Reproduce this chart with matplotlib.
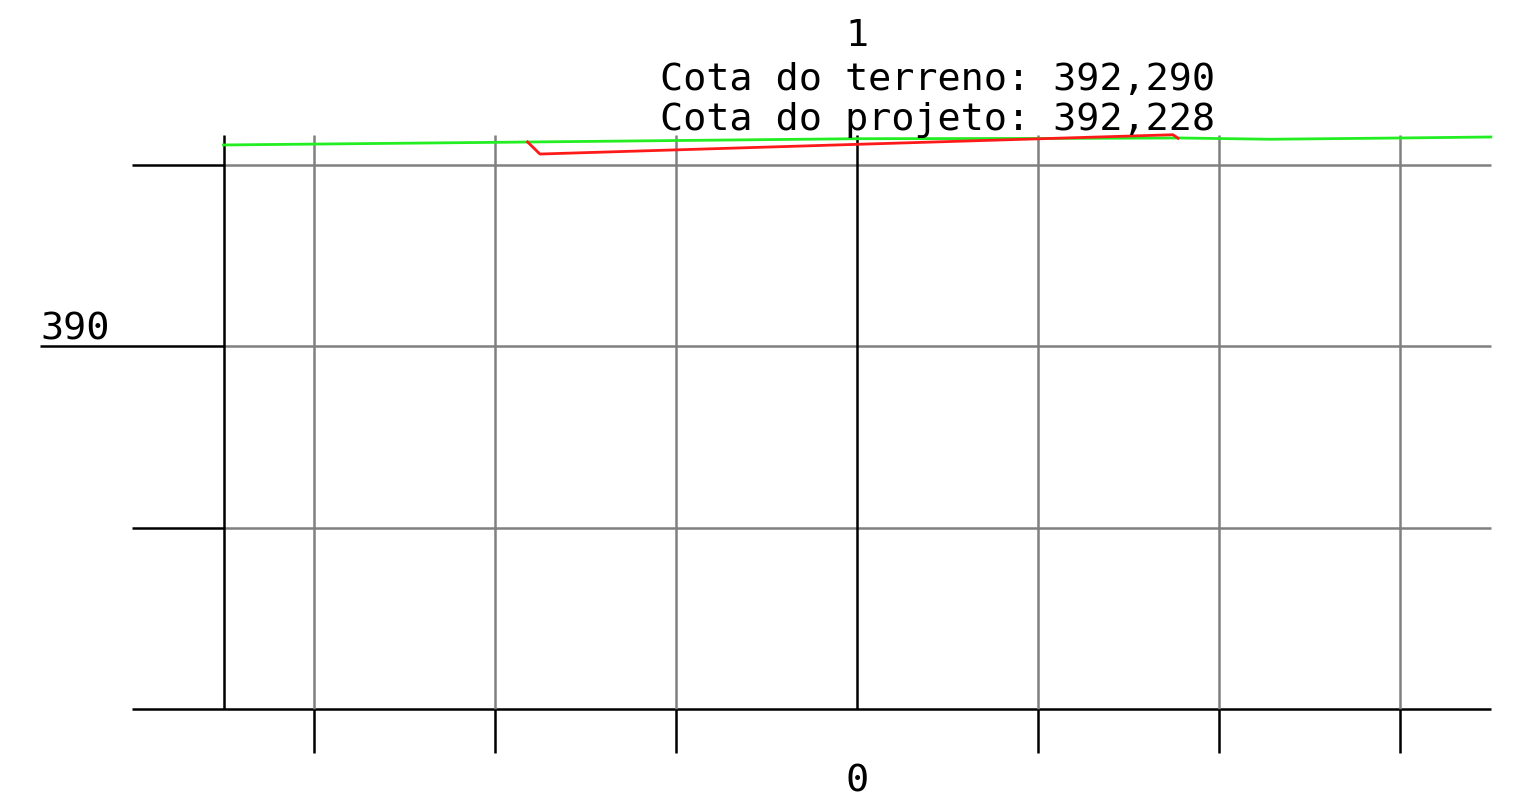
import matplotlib
matplotlib.use("Agg")
import matplotlib.pyplot as plt

# ---- data (metres) ----
terrain_x = [-17.5, -10.0, 0.0, 5.0, 8.92, 11.41, 15.0, 17.51]
terrain_y = [392.221, 392.250, 392.290, 392.293, 392.298, 392.284, 392.298, 392.309]

project_x = [-9.10, -8.76, 0.0, 8.73, 8.87]
project_y = [392.254, 392.121, 392.228, 392.334, 392.295]

elev_levels = [386, 388, 390, 392]
offset_lines = [-15, -10, -5, 5, 10, 15]
elev_label = "390"
station = "1"
offset_label = "0"
terrain_cota = "392,290"
project_cota = "392,228"

# ---- figure ----
W, H, DPI = 1528, 797, 100
fig = plt.figure(figsize=(W / DPI, H / DPI), dpi=DPI)
ax = fig.add_axes([0, 0, 1, 1])
ax.set_axis_off()

PX_X = 36.2     # px per metre horizontally
PX_Y = 90.65    # px per metre vertically
X0, Y0 = 857, 165  # pixel of (0, 392)

def px_x(p):
    return (p - X0) / PX_X

def px_y(p):
    return 392 + (Y0 - p) / PX_Y

ax.set_xlim(px_x(0), px_x(W))
ax.set_ylim(px_y(H), px_y(0))

left_edge, right_edge = -17.5, 17.51
far_left = px_x(132)
top = px_y(135)
tick_bot = px_y(753)
base = min(elev_levels)
lw = 1.8
gray = "#808080"

# horizontal elevation lines
for lv in elev_levels:
    if lv == base:
        ax.plot([far_left, right_edge], [lv, lv], color="black", lw=lw, solid_capstyle="butt")
    else:
        xl = px_x(40) if str(lv) == elev_label else far_left
        ax.plot([xl, left_edge], [lv, lv], color="black", lw=lw, solid_capstyle="butt")
        ax.plot([left_edge, right_edge], [lv, lv], color=gray, lw=lw, solid_capstyle="butt")

# vertical offset lines
for ox in offset_lines:
    ax.plot([ox, ox], [base, top], color=gray, lw=lw, solid_capstyle="butt")
    ax.plot([ox, ox], [tick_bot, base], color="black", lw=lw, solid_capstyle="butt")
ax.plot([left_edge, left_edge], [base, top], color="black", lw=lw, solid_capstyle="butt")
ax.plot([0, 0], [base, top], color="black", lw=lw, solid_capstyle="butt")

# terrain and project
ax.plot(terrain_x, terrain_y, color="#22ee22", lw=2)
ax.plot(project_x, project_y, color="#ff1a1a", lw=2)

# texts
fs = 27.7
font = "DejaVu Sans Mono"
def fx(p):
    return p / W
def fy(p):
    return 1 - p / H

fig.text(fx(857), fy(46), station, ha="center", va="baseline", fontsize=fs, family=font)
fig.text(fx(660), fy(90), "Cota do terreno: " + terrain_cota, ha="left", va="baseline", fontsize=fs, family=font)
fig.text(fx(660), fy(130), "Cota do projeto: " + project_cota, ha="left", va="baseline", fontsize=fs, family=font)
fig.text(fx(40), fy(340), elev_label, ha="left", va="baseline", fontsize=fs, family=font)
fig.text(fx(857), fy(792), offset_label, ha="center", va="baseline", fontsize=fs, family=font)

fig.savefig("out.png", dpi=DPI, facecolor="white")
